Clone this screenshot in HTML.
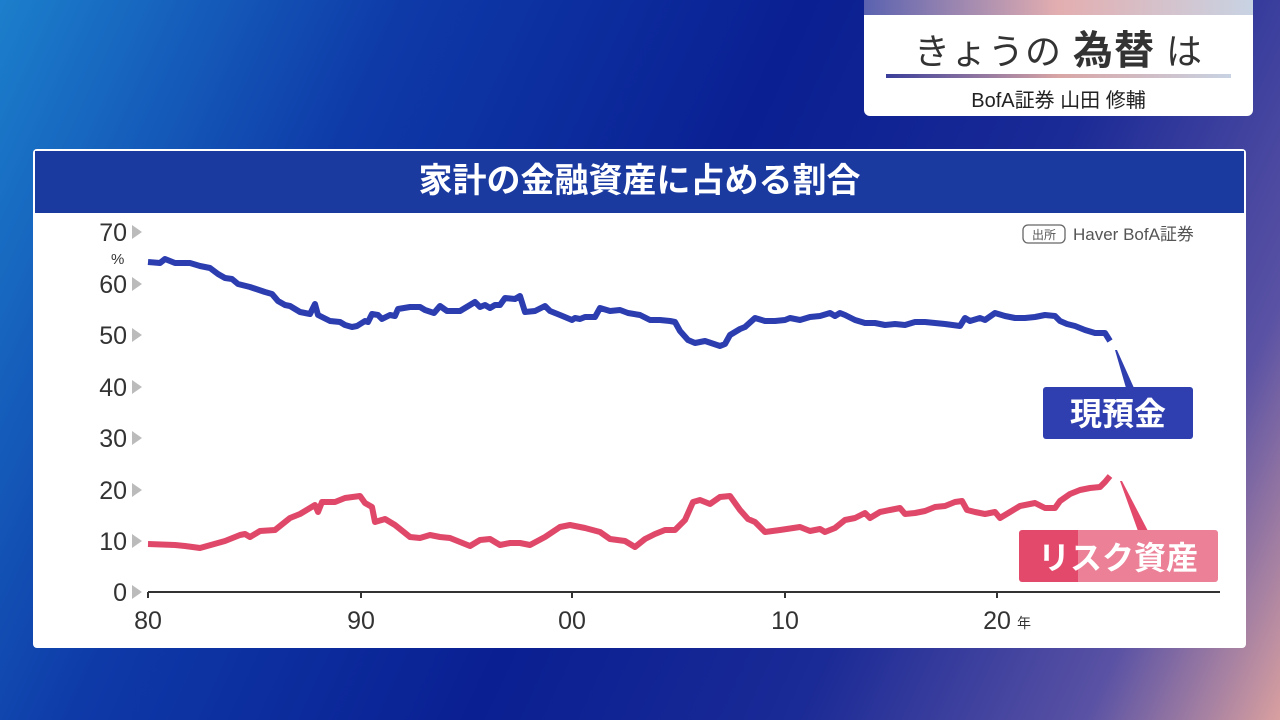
<!DOCTYPE html>
<html><head><meta charset="utf-8"><style>
html,body{margin:0;padding:0;width:1280px;height:720px;overflow:hidden}
body{background:linear-gradient(115deg,#1c7fcc 0%,#0e3aa8 25%,#0a1f92 50%,#1a2a96 70%,#5a52a4 88%,#d9a0a0 100%);font-family:"Liberation Sans","Noto Sans CJK JP",sans-serif;position:relative}
.tb{position:absolute;left:864px;top:0;width:389px;height:116px;background:#fff;border-radius:0 0 6px 6px;overflow:hidden}
.tb .strip{height:15px;background:linear-gradient(90deg,#5a62b0,#e3aeb0 50%,#c8d3e3)}
.tb .t1{position:absolute;top:18px;left:0;width:100%;text-align:center;font-size:36px;color:#333;letter-spacing:1px}
.tb .t1 b{font-size:40px}
.tb .ln{position:absolute;left:22px;right:22px;top:74px;height:4px;background:linear-gradient(90deg,#3a3e9a,#d9a5a5 50%,#c8d3e3)}
.tb .t2{position:absolute;top:84px;width:100%;text-align:center;font-size:20px;color:#222}
.panel{position:absolute;left:33px;top:149px;width:1213px;height:499px;background:#fff;border-radius:4px;overflow:hidden}
.title{height:66px;background:#1a3aa0;border:2px solid #fff;box-sizing:border-box;color:#fff;font-size:34px;font-weight:bold;text-align:center;line-height:60px}
svg{position:absolute;left:0;top:0}
</style></head><body>
<div class="tb"><div class="strip"></div><div class="t1">きょうの <b>為替</b> は</div><div class="ln"></div><div class="t2">BofA証券 山田 修輔</div></div>
<div class="panel"><div class="title">家計の金融資産に占める割合</div></div>
<svg width="1280" height="720" viewBox="0 0 1280 720">
<g font-family="Liberation Sans, sans-serif" font-size="25" fill="#333" text-anchor="end">
<text x="127" y="241">70</text><text x="127" y="293">60</text><text x="127" y="344">50</text><text x="127" y="396">40</text><text x="127" y="447">30</text><text x="127" y="499">20</text><text x="127" y="550">10</text><text x="127" y="601">0</text>
</g>
<text x="111" y="264" font-size="15" fill="#333" font-family="Liberation Sans">%</text>
<g fill="#bbb">
<polygon points="132,225 132,239 142,232"/><polygon points="132,277 132,291 142,284"/><polygon points="132,328 132,342 142,335"/><polygon points="132,380 132,394 142,387"/><polygon points="132,431 132,445 142,438"/><polygon points="132,483 132,497 142,490"/><polygon points="132,534 132,548 142,541"/><polygon points="132,585 132,599 142,592"/>
</g>
<line x1="148" y1="592" x2="1220" y2="592" stroke="#333" stroke-width="2"/>
<g stroke="#333" stroke-width="2"><line x1="148" y1="592" x2="148" y2="598"/><line x1="361" y1="592" x2="361" y2="598"/><line x1="572" y1="592" x2="572" y2="598"/><line x1="785" y1="592" x2="785" y2="598"/><line x1="997" y1="592" x2="997" y2="598"/></g>
<g font-family="Liberation Sans, sans-serif" font-size="25" fill="#333" text-anchor="middle">
<text x="148" y="629">80</text><text x="361" y="629">90</text><text x="572" y="629">00</text><text x="785" y="629">10</text><text x="997" y="629">20</text>
</g>
<text x="1017" y="628" font-size="14" fill="#333" font-family="Noto Sans CJK JP">年</text>
<rect x="1023" y="225" width="42" height="18" rx="5" fill="none" stroke="#666" stroke-width="1.3"/>
<text x="1044" y="239" font-size="12" fill="#555" text-anchor="middle" font-family="Noto Sans CJK JP">出所</text>
<text x="1073" y="240" font-size="17" fill="#555" font-family="Liberation Sans, Noto Sans CJK JP, sans-serif">Haver BofA証券</text>
<polyline fill="none" stroke="#2c3db0" stroke-width="6" stroke-linejoin="round" points="148,262 160,263 165,259 175,263 190,263 200,266 210,268 218,274 225,278 232,279 238,284 250,287 265,292 272,294 278,301 285,305 290,306 300,312 310,314 315,304 318,315 330,321 340,322 345,325 352,327 357,326 365,321 368,322 372,314 378,315 382,319 390,315 395,316 398,309 410,307 420,307 425,310 434,313 440,306 447,311 460,311 470,305 475,302 480,307 485,305 490,308 495,305 500,305 505,298 515,299 520,296 525,312 535,311 545,306 550,311 560,315 572,320 575,318 580,319 585,317 595,317 600,308 610,311 620,310 628,313 640,315 650,320 660,320 670,321 675,322 680,331 688,340 695,343 705,341 720,346 725,344 730,335 740,329 745,327 755,318 765,321 775,321 785,320 790,318 800,320 810,317 820,316 830,313 835,316 840,313 845,315 855,320 865,323 875,323 885,325 895,324 905,325 915,322 925,322 935,323 945,324 960,326 965,318 970,321 980,318 985,320 995,313 1005,316 1015,318 1025,318 1035,317 1045,315 1055,316 1060,321 1067,324 1075,326 1085,330 1095,333 1105,333 1110,341"/>
<polyline fill="none" stroke="#e0486a" stroke-width="6" stroke-linejoin="round" points="148,544 175,545 185,546 200,548 225,541 240,535 245,534 250,537 260,531 275,530 290,518 300,514 315,505 318,512 322,502 335,502 345,498 360,496 365,503 372,507 375,522 385,519 395,525 410,537 420,538 430,535 440,537 450,538 470,546 480,540 490,539 500,545 510,543 520,543 530,545 545,537 560,527 570,525 585,528 600,532 610,539 625,541 635,547 645,539 655,534 665,530 675,530 685,520 693,502 700,500 710,504 720,497 730,496 740,510 748,519 755,522 765,532 780,530 800,527 810,531 820,529 825,532 835,528 845,520 855,518 865,513 870,518 880,512 890,510 900,508 905,514 915,513 925,511 935,507 945,506 955,502 962,501 967,510 975,512 985,514 995,512 1000,518 1010,512 1020,506 1035,503 1045,508 1055,508 1060,501 1070,494 1080,490 1090,488 1100,487 1105,482 1110,476"/>
<polygon points="1115,350 1117,350 1134,388 1126,388" fill="#2f3fb0"/>
<rect x="1043" y="387" width="150" height="52" rx="3" fill="#2f3fb0"/>
<text x="1118" y="425" font-size="32" font-weight="bold" fill="#fff" text-anchor="middle" font-family="Noto Sans CJK JP">現預金</text>
<polygon points="1120,481 1122,481 1148,531 1138,531" fill="#e3496b"/>
<rect x="1019" y="530" width="199" height="52" rx="3" fill="#e3496b"/>
<rect x="1078" y="530" width="140" height="52" fill="#fff" opacity="0.3"/>
<text x="1118" y="569" font-size="32" font-weight="bold" fill="#fff" text-anchor="middle" font-family="Noto Sans CJK JP">リスク資産</text>
</svg>
</body></html>
